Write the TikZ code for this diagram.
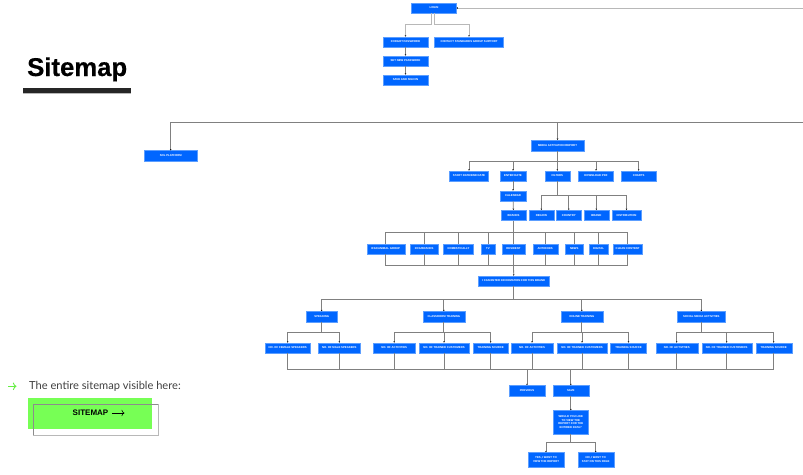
\documentclass[tikz,border=0pt]{standalone}
\usepackage{fontspec}
\usetikzlibrary{arrows.meta}
\setmainfont{Liberation Sans}
\newfontfamily\latofont{Lato}
\newfontfamily\titlefont[FakeBold=.5]{Liberation Sans Bold}
\definecolor{boxblue}{HTML}{0066FF}
\definecolor{boxedge}{HTML}{5C9EFF}
\definecolor{linegray}{HTML}{808080}
\definecolor{lightline}{HTML}{B8B8B8}
\definecolor{btngreen}{HTML}{77FF55}
\definecolor{arrowgreen}{HTML}{66EE44}
\tikzset{
  sitebox/.style={fill=boxblue,draw=boxedge,line width=.25pt,inner sep=0pt,minimum height=10.5,
    text=white,align=center,font=\fontsize{2.8}{3.6}\selectfont\bfseries},
  sitelink/.style={draw=linegray,line width=.8pt},
  sitearrow/.style={sitelink,-{Stealth[length=1.3pt,width=1.5pt,black]}},
}
\begin{document}
\begin{tikzpicture}[x=1pt,y=-1pt]
\useasboundingbox (0,0) rectangle (803,474);

% left side
\node [anchor=base west,inner sep=0pt,font=\titlefont\fontsize{25.7}{28}\selectfont] (title) at (27,76) {Sitemap};
\fill [black!85] (23,88.3) rectangle (131,92.5);
\fill [lightline] (23,92.5) rectangle (131,93.5);
\coordinate (hereleft) at (8,386.3); \coordinate (hereright) at (16.5,386.3);
\draw [->,arrowgreen,line width=.9pt] (hereleft) -- (hereright);
\node [anchor=west,inner sep=0pt,text=black!75,font=\latofont\fontsize{11.1}{13}\selectfont] (here) at (29,386) {The entire sitemap visible here:};
\fill [btngreen] (28,397.7) rectangle (152,429);
\draw [black!45,line width=.6pt] (33,404) -- (158,404) -- (158,435.7) -- (33,435.7) -- cycle;
\draw [lightline,line width=1pt] (158,404) -- (158,435.7) -- (33,435.7);
\node [inner sep=0pt,font=\fontsize{8}{10}\selectfont\bfseries] (btn) at (90.5,413) {SITEMAP};
\coordinate (btnend) at (124.5,413);
\draw [->,line width=.6pt] ([xshift=3.5pt]btn.east) -- (btnend);

% login
\node [sitebox,minimum width=45] (login) at (434,8) {LOGIN};
\node [sitebox,minimum width=45] (forgot) at (405.5,42) {FORGOT PASSWORD};
\node [sitebox,minimum width=69] (contact) at (469,42) {CONTACT STANDARDS GROUP SUPPORT};
\node [sitebox,minimum width=45] (setnew) at (405.5,61) {SET NEW PASSWORD};
\node [sitebox,minimum width=45] (savesign) at (405.5,80) {SAVE AND SIGN IN};
\coordinate (loginend) at (803,8);
\draw [sitearrow,draw=lightline,line width=1pt] (loginend) -- (login.east);
\draw [sitearrow,draw=lightline] ([xshift=-2.5pt]login.south) -- ++(0,11.5) -| (forgot.north);
\draw [sitearrow,draw=lightline] ([xshift=.5pt]login.south) -- ++(0,11.5) -| (contact.north);
\draw [sitearrow] (forgot) -- (setnew);
\draw [sitearrow] (setnew) -- (savesign);

% platform and report
\node [sitebox,minimum width=53,minimum height=11] (platform) at (170.7,156) {SOL PLATFORM};
\node [sitebox,minimum width=53,minimum height=11] (report) at (557.5,145.4) {MEDIA ACTIVATION REPORT};
\coordinate (topend) at (803,122.5); \coordinate (topbus) at (557.5,122.5);
\draw [sitearrow] (topend) -| (platform.north);
\draw [sitearrow] (topbus) -- (report.north);

\node [sitebox,minimum width=39] (startdate) at (469,176) {START DATE/END DATE};
\node [sitebox,minimum width=26] (enterdate) at (513,176) {ENTER DATE};
\node [sitebox,minimum width=25] (filters) at (557.3,176) {FILTERS};
\node [sitebox,minimum width=35] (download) at (596,176) {DOWNLOAD PDF};
\node [sitebox,minimum width=35] (charts) at (638.7,176) {CHARTS};
\coordinate (reportbus) at (557.5,161);
\draw [sitelink] (report.south) -- (reportbus);
\foreach \n in {startdate,enterdate,filters,download,charts}
  \draw [sitearrow] (reportbus) -| (\n.north);

\node [sitebox,minimum width=26] (calendar) at (513,196) {CALENDAR};
\node [sitebox,minimum width=25] (brands) at (513.5,215.3) {BRANDS};
\draw [sitearrow] (enterdate) -- (calendar);
\draw [sitearrow] (calendar) -- (brands);

% filters
\node [sitebox,minimum width=25] (region) at (541.3,215.3) {REGION};
\node [sitebox,minimum width=25.5] (country) at (568.8,215.3) {COUNTRY};
\node [sitebox,minimum width=25] (brand) at (596.3,215.3) {BRAND};
\node [sitebox,minimum width=29] (distribution) at (626.5,215.3) {DISTRIBUTION};
\coordinate (filterbus) at (557.3,195.7);
\draw [sitelink] (filters.south) -- (filterbus);
\foreach \n in {region,country,brand,distribution}
  \draw [sitearrow] (filterbus) -| (\n.north);

% brand row
\node [sitebox,minimum width=38] (ifagroup) at (385.7,249) {IFFA/ANIMAL GROUP};
\node [sitebox,minimum width=28] (iffa) at (424.2,249) {IFFA/BRANDS};
\node [sitebox,minimum width=30] (domestic) at (458.5,249) {DOMESTICALLY};
\node [sitebox,minimum width=14] (tv) at (488,249) {TV};
\node [sitebox,minimum width=23] (resident) at (513.5,249) {RESIDENT};
\node [sitebox,minimum width=25] (antioxid) at (545.2,249) {ANTIOXIDS};
\node [sitebox,minimum width=18] (news) at (574.2,249) {NEWS};
\node [sitebox,minimum width=19] (digital) at (598.5,249) {DIGITAL};
\node [sitebox,minimum width=29] (clean) at (627.7,249) {CLEAN CONTENT};
\node [sitebox,minimum width=70.7] (enter) at (513.7,281) {I CAN ENTER INFORMATION FOR THIS BRAND};
\coordinate (upperbus) at (513.5,232.3); \coordinate (lowerbus) at (513.5,265.3);
\draw [sitelink] (brands.south) -- (upperbus);
\foreach \n in {ifagroup,iffa,domestic,tv,resident,antioxid,news,digital,clean} {
  \draw [sitelink] (upperbus) -| (\n.north);
  \draw [sitelink] (\n.south) |- (lowerbus);
}
\draw [sitearrow] (lowerbus) -- (enter.north);

% activity groups
\node [sitebox,minimum width=31] (speaking) at (321.7,316.5) {SPEAKING};
\node [sitebox,minimum width=42] (classroom) at (443.8,316.5) {CLASSROOM TRAINING};
\node [sitebox,minimum width=42] (online) at (581.8,316.5) {ONLINE TRAINING};
\node [sitebox,minimum width=48] (social) at (701.3,316.5) {SOCIAL MEDIA ACTIVITIES};
\coordinate (enterbus) at (513.7,299);
\draw [sitelink] (enter.south) -- (enterbus);
\foreach \n in {speaking,classroom,online,social}
  \draw [sitearrow] (enterbus) -| (\n.north);

\node [sitebox,minimum width=45] (female) at (287.7,348) {NO. OF FEMALE SPEAKERS};
\node [sitebox,minimum width=42] (male) at (339.3,348) {NO. OF MALE SPEAKERS};
\node [sitebox,minimum width=42] (cact) at (394.2,348) {NO. OF ACTIVITIES};
\node [sitebox,minimum width=50] (ctrained) at (444,348) {NO. OF TRAINED CUSTOMERS};
\node [sitebox,minimum width=35] (csource) at (490.7,348) {TRAINING SOURCE};
\node [sitebox,minimum width=42] (oact) at (532,348) {NO. OF ACTIVITIES};
\node [sitebox,minimum width=50] (otrained) at (582,348) {NO. OF TRAINED CUSTOMERS};
\node [sitebox,minimum width=36] (osource) at (628.5,348) {TRAINING SOURCE};
\node [sitebox,minimum width=42] (sact) at (676.7,348) {NO. OF ACTIVITIES};
\node [sitebox,minimum width=50] (strained) at (726.7,348) {NO. OF TRAINED CUSTOMERS};
\node [sitebox,minimum width=36] (ssource) at (773.7,348) {TRAINING SOURCE};
\coordinate (speakbus) at (321.7,332.3); \coordinate (classbus) at (443.8,332.3);
\coordinate (onlinebus) at (581.8,332.3); \coordinate (socialbus) at (701.3,332.3);
\draw [sitelink] (speaking.south) -- (speakbus);
\draw [sitelink] (classroom.south) -- (classbus);
\draw [sitelink] (online.south) -- (onlinebus);
\draw [sitelink] (social.south) -- (socialbus);
\foreach \n in {female,male} \draw [sitearrow] (speakbus) -| (\n.north);
\foreach \n in {cact,ctrained,csource} \draw [sitearrow] (classbus) -| (\n.north);
\foreach \n in {oact,otrained,osource} \draw [sitearrow] (onlinebus) -| (\n.north);
\foreach \n in {sact,strained,ssource} \draw [sitearrow] (socialbus) -| (\n.north);

% bottom
\node [sitebox,minimum width=36] (previous) at (527,390.5) {PREVIOUS};
\node [sitebox,minimum width=36] (save) at (570.8,390.5) {SAVE};
\node [sitebox,minimum width=35,minimum height=23.7] (wouldyou) at (570.8,422.2) {WOULD YOU LIKE\\TO VIEW THE\\REPORT FOR THE\\ENTIRED DATA?};
\node [sitebox,minimum width=36,minimum height=14.7] (yes) at (546,459.7) {YES, I WANT TO\\VIEW THE REPORT};
\node [sitebox,minimum width=36,minimum height=14.7] (no) at (595.7,459.7) {NO, I WANT TO\\STAY ON THIS PAGE};
\coordinate (rowbus) at (548,369.3); \coordinate (askbus) at (570.8,442.7);
\foreach \n in {female,male,cact,ctrained,csource,oact,otrained,osource,sact,strained,ssource}
  \draw [sitelink] (\n.south) |- (rowbus);
\draw [sitearrow] (rowbus) -| (previous.north);
\draw [sitearrow] (rowbus) -| (save.north);
\draw [sitearrow] (save) -- (wouldyou);
\draw [sitelink] (wouldyou.south) -- (askbus);
\draw [sitearrow] (askbus) -| (yes.north);
\draw [sitearrow] (askbus) -| (no.north);
\end{tikzpicture}
\end{document}
